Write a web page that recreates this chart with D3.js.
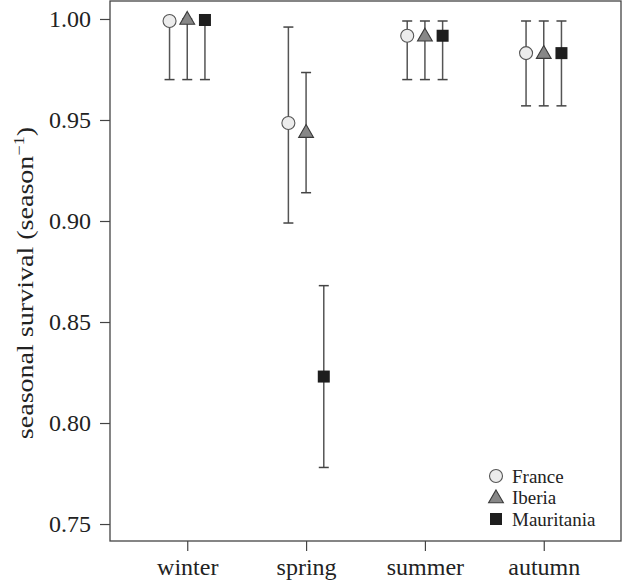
<!DOCTYPE html>
<html><head><meta charset="utf-8">
<script src="https://cdn.jsdelivr.net/npm/d3@7"></script>
<style>body{margin:0;background:#fff}svg{display:block}text{font-family:"Liberation Serif","Times New Roman",serif;fill:#222}</style>
</head><body>
<svg id="c" width="624" height="581"></svg>
<script>
const seasons = ["winter","spring","summer","autumn"];
const regions = ["France","Iberia","Mauritania"];
const estimates = {
  France:     [0.999, 0.9485, 0.9917, 0.9831],
  Iberia:     [1.000, 0.944,  0.9917, 0.9831],
  Mauritania: [0.9995,0.823,  0.9917, 0.9831]
};
const lowerCI = {
  France:     [0.970, 0.899, 0.970, 0.957],
  Iberia:     [0.970, 0.914, 0.970, 0.957],
  Mauritania: [0.970, 0.778, 0.970, 0.957]
};
const upperCI = {
  France:     [1.000, 0.996, 0.999, 0.999],
  Iberia:     [1.000, 0.9735,0.999, 0.999],
  Mauritania: [1.000, 0.868, 0.999, 0.999]
};
const yTicks = [0.75,0.80,0.85,0.90,0.95,1.00];

const svg = d3.select("#c");
const L=110, R=621, T=1, B=541;
const x = d3.scalePoint().domain(seasons).range([L,R]).padding(0.65);
const y = d3.scaleLinear().domain([0.7416,1.0089]).range([B,T]);
const off = d3.scalePoint().domain(regions).range([-17.7,17.7]);

const styles = {
  France:{fill:"#ececec",stroke:"#555"},
  Iberia:{fill:"#878787",stroke:"#3a3a3a"},
  Mauritania:{fill:"#1e1e1e",stroke:"#1e1e1e"}
};

// frame
svg.append("rect").attr("x",L).attr("y",T).attr("width",R-L).attr("height",B-T)
  .attr("fill","none").attr("stroke","#444").attr("stroke-width",1.3);

// axes
const ya = svg.append("g").attr("transform",`translate(${L},0)`)
  .call(d3.axisLeft(y).tickValues(yTicks).tickFormat(d3.format(".2f")).tickSize(10).tickPadding(9));
ya.select(".domain").remove();
ya.selectAll("line").attr("stroke","#444").attr("stroke-width",1.2);
ya.selectAll("text").style("font-size","24px").attr("fill","#222");

const xa = svg.append("g").attr("transform",`translate(0,${B})`)
  .call(d3.axisBottom(x).tickSize(10).tickPadding(7));
xa.select(".domain").remove();
xa.selectAll("line").attr("stroke","#444").attr("stroke-width",1.2);
xa.selectAll("text").style("font-size","24px").attr("fill","#222");

// y title
const yt = svg.append("text").attr("transform",`translate(33,283) rotate(-90) scale(1.22,1)`)
  .attr("text-anchor","middle").style("font-size","23px");
yt.append("tspan").text("seasonal survival (season");
yt.append("tspan").attr("dy",-9).style("font-size","15px").text("−1");
yt.append("tspan").attr("dy",9).text(")");

const tri = d3.symbol().type(d3.symbolTriangle).size(95);
function marker(g, r, cx, cy){
  const s = styles[r];
  if(r==="France") g.append("circle").attr("cx",cx).attr("cy",cy).attr("r",6.5)
     .attr("fill",s.fill).attr("stroke",s.stroke).attr("stroke-width",1.1);
  else if(r==="Iberia") g.append("path").attr("d",tri).attr("transform",`translate(${cx},${cy+1})`)
     .attr("fill",s.fill).attr("stroke",s.stroke).attr("stroke-width",1.1);
  else g.append("rect").attr("x",cx-6).attr("y",cy-6).attr("width",12).attr("height",12)
     .attr("fill",s.fill);
}

const g = svg.append("g");
regions.forEach(r=>{
  seasons.forEach((s,i)=>{
    const cx = x(s)+off(r);
    const lo = y(lowerCI[r][i]), hi = y(upperCI[r][i]);
    g.append("line").attr("x1",cx).attr("x2",cx).attr("y1",lo).attr("y2",hi)
      .attr("stroke","#555").attr("stroke-width",1.5);
    [lo,hi].forEach(v=>g.append("line").attr("x1",cx-5).attr("x2",cx+5).attr("y1",v).attr("y2",v)
      .attr("stroke","#444").attr("stroke-width",1.5));
  });
});
regions.forEach(r=>{
  seasons.forEach((s,i)=>marker(g,r,x(s)+off(r),y(estimates[r][i])));
});

// legend
const lg = svg.append("g");
regions.forEach((r,i)=>{
  const cy = 476 + i*21.5;
  marker(lg, r, 496, cy);
  lg.append("text").attr("x",512).attr("y",cy).attr("dy","0.35em").style("font-size","19px").text(r);
});
</script>
</body></html>
